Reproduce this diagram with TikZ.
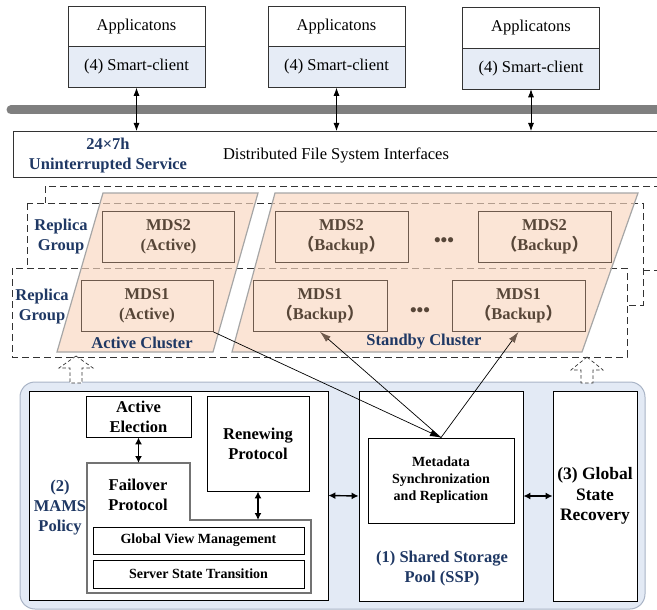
\documentclass[tikz,border=0pt]{standalone}
\usepackage{fontspec}
\setmainfont{Liberation Serif}
\newfontfamily\cjk{Noto Sans CJK SC}
\usetikzlibrary{arrows.meta}

\definecolor{navy}{HTML}{1F3864}
\definecolor{clientblue}{HTML}{E6ECF6}
\definecolor{bargray}{HTML}{7F7F7F}
\definecolor{peach}{HTML}{FBE5D6}
\definecolor{peachtint}{RGB}{249,215,192}
\definecolor{clusterline}{HTML}{A6A6A6}
\definecolor{mdsline}{HTML}{6E5A4D}
\definecolor{mdstext}{HTML}{574638}
\definecolor{panelblue}{HTML}{E3EAF5}
\definecolor{panelline}{HTML}{A9B4C6}
\definecolor{dashline}{HTML}{333333}

\newcommand\fsbig{\fontsize{16.5}{20}\selectfont}
\newcommand\fssmall{\fontsize{14}{17}\selectfont}

\tikzset{
  appbox/.style={draw=black!80, line width=0.6pt, minimum width=137pt,
    minimum height=41pt, inner sep=0pt, font=\fsbig},
  clientbox/.style={appbox, fill=clientblue},
  thindbl/.style={line width=0.8pt, {Latex[length=8pt,width=6pt]}-{Latex[length=8pt,width=6pt]}},
  thickdbl/.style={line width=1.4pt, {Latex[length=7pt,width=7pt]}-{Latex[length=7pt,width=7pt]}},
  groupbox/.style={draw=dashline, fill=white, line width=0.8pt, dash pattern=on 7pt off 4pt},
  cluster/.style={draw=clusterline, line width=1.2pt, fill=peachtint, fill opacity=0.65},
  mds/.style={draw=mdsline, line width=0.8pt, fill=peach, minimum width=132pt,
    minimum height=51pt, inner sep=0pt, text=mdstext, font=\bfseries\fsbig, align=center},
  navylabel/.style={text=navy, font=\bfseries\fsbig, align=center, inner sep=0pt},
  hollow/.style={draw=dashline, fill=white, line width=0.7pt, dash pattern=on 3.5pt off 2.5pt},
  plainbox/.style={draw=black, line width=0.8pt, fill=white, inner sep=0pt},
  innerbox/.style={plainbox, font=\bfseries\fssmall},
  sync/.style={line width=0.7pt, draw=black},
  dotrow/.style={text=mdstext, font=\bfseries\fontsize{19}{20}\selectfont, inner sep=0pt},
}

\begin{document}
\begin{tikzpicture}[x=1pt, y=-1pt]
\path[use as bounding box, clip] (0,0) rectangle (657,610);

% ---- applications with their smart clients
\node[appbox] (app1) at (136.5,26.5) {Applicatons};
\node[clientbox] (cli1) at (136.5,67) {(4) Smart-client};
\node[appbox] (app2) at (336.5,26.5) {Applicatons};
\node[clientbox] (cli2) at (336.5,67) {(4) Smart-client};
\node[appbox] (app3) at (531,27.5) {Applicatons};
\node[clientbox] (cli3) at (531,68.5) {(4) Smart-client};

% ---- network bar
\coordinate (barL) at (11,110);
\coordinate (barR) at (720,110);
\draw[line width=9pt, line cap=round, bargray] (barL) -- (barR);

% ---- file system interface layer
\node[draw=black!80, line width=0.6pt, minimum width=720pt, minimum height=46pt,
      anchor=north west, inner sep=0pt] (dfs) at (13,131) {};
\node[navylabel, font=\bfseries\fsbig] (svc) at (108,156) {24×7h\\Uninterrupted Service};
\node[font=\fsbig, inner sep=0pt] (dfstext) at (336,155) {Distributed File System Interfaces};

\foreach \c in {cli1,cli2,cli3}
  \draw[thindbl] (\c.south) -- (\c.south |- dfs.north);

% ---- replica groups (back to front)
\draw[groupbox] (45,186) rectangle (720,270);
\draw[groupbox] (27,203) rectangle (643,305);
\draw[groupbox] (12,268) rectangle (627,357);

% ---- clusters
\draw[cluster] (103,193) -- (258,193) -- (213,352) -- (57,352) -- cycle;
\draw[cluster] (275,193) -- (638,193) -- (582,352) -- (232,352) -- cycle;

\node[mds] (mds2a) at (168.5,236.5) {MDS2\\(Active)};
\node[mds] (mds1a) at (147,306) {MDS1\\(Active)};
\node[mds, minimum width=133pt] (mds2b1) at (341.5,236.5) {MDS2\\{\cjk （}Backup{\cjk ）}};
\node[mds, minimum width=133pt] (mds2b2) at (544.5,236.5) {MDS2\\{\cjk （}Backup{\cjk ）}};
\node[mds, minimum width=134pt] (mds1b1) at (320,306) {MDS1\\{\cjk （}Backup{\cjk ）}};
\node[mds, minimum width=133pt] (mds1b2) at (518.5,306) {MDS1\\{\cjk （}Backup{\cjk ）}};
\node[dotrow] (dots2) at (444,242) {•••};
\node[dotrow] (dots1) at (420,312) {•••};

\node[navylabel] (rg2lab) at (61,236.5) {Replica\\Group};
\node[navylabel] (rg1lab) at (42,307) {Replica\\Group};
\node[navylabel] (aclab) at (142,343) {Active Cluster};
\node[navylabel] (sclab) at (424,342) {Standby Cluster};

% ---- management panel
\draw[fill=panelblue, draw=panelline, line width=1pt, rounded corners=15pt]
  (20,382) rectangle (645,609);

% hollow arrows from the panel up to the clusters
\draw[hollow] (76,356) -- (93,368) -- (82,368) -- (82,383) -- (70,383) -- (70,368) -- (59,368) -- cycle;
\draw[hollow] (587,357) -- (603,370) -- (593,370) -- (593,383) -- (581,383) -- (581,370) -- (571,370) -- cycle;

% (2) MAMS policy
\node[plainbox, minimum width=299pt, minimum height=209pt] (mams) at (178.5,495.5) {};
\node[navylabel] (mamslab) at (60,508) {(2)\\MAMS\\Policy};
\node[plainbox, minimum width=105pt, minimum height=41pt, font=\bfseries\fsbig, align=center]
  (elect) at (138.5,416.5) {Active\\Election};
\node[plainbox, minimum width=102pt, minimum height=95pt, font=\bfseries\fsbig, align=center]
  (renew) at (258,443.5) {Renewing\\Protocol};
\draw[draw=black!55, line width=1.4pt, fill=white]
  (87,463) -- (190,463) -- (190,520) -- (311,520) -- (311,593) -- (87,593) -- cycle;
\coordinate (foTop) at (138.5,463);
\coordinate (foStep) at (258,520);
\node[font=\bfseries\fsbig, align=center, inner sep=0pt] (folab)
  at (138,494.5) {\fontsize{16.5}{25}\selectfont Failover\\Protocol};
\node[innerbox, minimum width=211pt, minimum height=27pt] (gvm) at (198.5,540.5) {Global View Management};
\node[innerbox, minimum width=211pt, minimum height=28pt] (sst) at (198.5,574) {Server State Transition};
\draw[thickdbl] (elect.south) -- (foTop);
\draw[thickdbl] (renew.south) -- (foStep);

% (1) shared storage pool
\node[plainbox, minimum width=164pt, minimum height=210pt] (ssp) at (441,496) {};
\node[plainbox, minimum width=146pt, minimum height=85pt, font=\bfseries\fssmall, align=center]
  (meta) at (441,480.5) {Metadata\\Synchronization\\and Replication};
\node[navylabel] (ssplab) at (442,569) {(1) Shared Storage\\Pool (SSP)};

% (3) global state recovery
\node[plainbox, minimum width=84pt, minimum height=210pt, font=\bfseries\fontsize{17.5}{20.5}\selectfont,
      align=center] (gsr) at (595,496) {(3) Global\\State\\Recovery};

\draw[thickdbl] (mams.east) -- (ssp.west);
\draw[thickdbl] (ssp.east) -- (gsr.west);

% metadata synchronisation paths
\draw[sync, -{Latex[length=11pt,width=7pt]}] (mds1a.south east) -- (meta.north);
\draw[sync, -{Latex[length=11pt,width=7pt,color=mdsline]}] (meta.north) -- (mds1b1.south);
\draw[sync, -{Latex[length=11pt,width=7pt,color=mdsline]}] (meta.north) -- (mds1b2.south);
\end{tikzpicture}
\end{document}
